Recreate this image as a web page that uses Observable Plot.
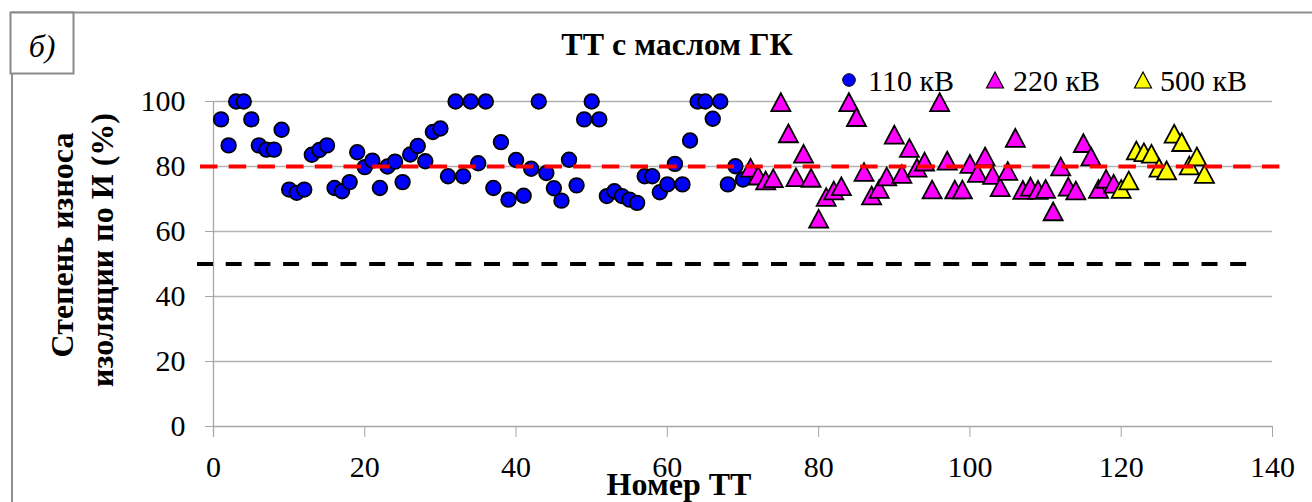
<!DOCTYPE html>
<html>
<head>
<meta charset="utf-8">
<script src="https://cdn.jsdelivr.net/npm/d3@7"></script>
<script src="https://cdn.jsdelivr.net/npm/@observablehq/plot@0.6"></script>
<style>
  html, body { margin: 0; padding: 0; background: #fff; }
  #chart { width: 1312px; height: 502px; overflow: hidden; }
  #chart svg text { font-family: 'Liberation Serif', 'Times New Roman', serif; }
</style>
</head>
<body>
<div id="chart"></div>
<script>
// ---- data ----
const title = "ТТ с маслом ГК";
const panelLabel = "б)";
const xLabel = "Номер ТТ";
const yLabelLines = ["Степень износа", "изоляции по И (%)"];
const seriesNames = ["110 кВ", "220 кВ", "500 кВ"];
const xTicks = [0, 20, 40, 60, 80, 100, 120, 140];
const yTicks = [0, 20, 40, 60, 80, 100];
const redLevel = 80;
const blackLevel = 50;

const x110 = [1,2,3,4,5,6,7,8,9,10,11,12,13,14,15,16,17,18,19,20,21,22,23,24,25,26,27,28,29,30,31,32,33,34,35,36,37,38,39,40,41,42,43,44,45,46,47,48,49,50,51,52,53,54,55,56,57,58,59,60,61,62,63,64,65,66,67,68,69,70];
const y110 = [94.5,86.5,100,100,94.5,86.5,85.2,85.2,91.3,72.9,71.9,72.9,83.6,85.1,86.5,73.4,72.4,75.2,84.4,79.8,81.8,73.4,80,81.5,75.2,83.7,86.3,81.6,90.6,91.7,77,100,77,100,81,100,73.4,87.5,69.8,82,71,79.3,100,78,73.3,69.5,82.1,74.2,94.5,100,94.5,70.9,72.4,70.9,69.8,68.8,77,77,72.1,74.5,80.8,74.5,88,100,100,94.7,100,74.5,80.1,76];

const x220 = [71,72,73,74,75,76,77,78,79,80,81,82,83,84,85,86,87,88,89,90,91,92,93,94,95,96,97,98,99,100,101,102,103,104,105,106,107,108,109,110,111,112,113,114,115,116,117,118,119];
const y220 = [79.6,77.2,75.7,76.4,99.8,90.2,76.7,83.9,76.5,63.9,70.6,72.6,73.9,99.8,95.2,78.3,71.1,73.1,76.9,89.8,77.7,85.7,79.6,81.5,72.9,99.8,81.8,72.9,72.9,80.8,78,83.1,77.4,73.6,78.6,88.8,72.8,73.8,72.8,73.1,66.2,80,73.8,72.6,87.2,83.1,73.1,76.2,74.7];

const x500 = [120,121,122,123,124,125,126,127,128,129,130,131];
const y500 = [73.1,75.7,84.9,84.4,83.9,79.6,78.8,90.1,87.5,80.3,83.1,77.7];

const colors = ["#0000ff", "#ff00ff", "#ffff00"];

// triangle centred on its bounding box (Excel-like marker)
const triSymbol = {
  draw(ctx, size) {
    const s = Math.sqrt(size);
    const h = 1.27 * s, w = 1.36 * s;
    ctx.moveTo(0, -h / 2);
    ctx.lineTo(w / 2, h / 2);
    ctx.lineTo(-w / 2, h / 2);
    ctx.closePath();
  }
};

const d110 = x110.map((x, i) => ({x, y: y110[i]}));
const d220 = x220.map((x, i) => ({x, y: y220[i]}));
const d500 = x500.map((x, i) => ({x, y: y500[i]}));

const W = 1312, H = 502;
const serif = "'Liberation Serif', 'Times New Roman', serif";

const plot = Plot.plot({
  width: W,
  height: H,
  marginLeft: 213,
  marginRight: 40,
  marginTop: 101,
  marginBottom: 76,
  style: { fontFamily: serif, fontSize: "29px", background: "#fff", color: "#000", overflow: "visible" },
  x: { domain: [0, 140] },
  y: { domain: [0, 100] },
  marks: [
    Plot.gridY(yTicks.filter(d => d > 0), { stroke: "#b3b3b3", strokeOpacity: 1, strokeWidth: 1.3 }),
    Plot.ruleY([0], { stroke: "#a6a6a6", strokeWidth: 1.3 }),
    Plot.ruleX([0], { stroke: "#a6a6a6", strokeWidth: 1.3, insetBottom: -11 }),
    Plot.axisY({ ticks: yTicks, tickSize: 8, tickPadding: 20, stroke: "#a6a6a6", fill: "#000", label: null, fontSize: 30, fontFamily: serif, tickFormat: d => String(d) }),
    Plot.axisX({ ticks: xTicks, tickSize: 11, tickPadding: 18, stroke: "#a6a6a6", fill: "#000", label: null, fontSize: 30, fontFamily: serif, tickFormat: d => String(d) }),
    Plot.ruleY([blackLevel], { stroke: "#000", strokeWidth: 4, strokeDasharray: "16,12.7", insetLeft: -16, insetRight: 20 }),
    Plot.dot(d110, { x: "x", y: "y", r: 7.3, fill: colors[0], stroke: "#000", strokeWidth: 1.8 }),
    Plot.dot(d220, { x: "x", y: "y", r: 7.9, symbol: triSymbol, fill: colors[1], stroke: "#000", strokeWidth: 1.8 }),
    Plot.dot(d500, { x: "x", y: "y", r: 7.9, symbol: triSymbol, fill: colors[2], stroke: "#000", strokeWidth: 1.8 }),
    Plot.ruleY([redLevel], { stroke: "#ff0000", strokeWidth: 4, strokeDasharray: "17.5,11.2", insetLeft: -13, insetRight: -11 })
  ]
});

document.getElementById("chart").appendChild(plot);

const svg = d3.select(plot);

// outer frame (top and left edges)
svg.append("line").attr("x1", 11).attr("x2", W).attr("y1", 12.5).attr("y2", 12.5)
  .attr("stroke", "#8f8f8f").attr("stroke-width", 2);
svg.append("line").attr("x1", 12).attr("x2", 12).attr("y1", 12).attr("y2", H)
  .attr("stroke", "#8f8f8f").attr("stroke-width", 2);

// panel label box
svg.append("rect").attr("x", 10.5).attr("y", 12.5).attr("width", 63).attr("height", 61)
  .attr("fill", "#fff").attr("stroke", "#8a8a8a").attr("stroke-width", 2);
svg.append("text").attr("x", 42).attr("y", 57).attr("text-anchor", "middle")
  .attr("font-family", serif).attr("font-style", "italic").attr("font-size", 32)
  .attr("fill", "#000").text(panelLabel);

// title
svg.append("text").attr("x", 677).attr("y", 55).attr("text-anchor", "middle")
  .attr("font-family", serif).attr("font-weight", "bold").attr("font-size", 32)
  .attr("fill", "#000").text(title);

// y label (two rotated lines)
const yl = [{x: 73, y: 245}, {x: 113, y: 250}];
yLabelLines.forEach((t, i) => {
  svg.append("text")
    .attr("transform", `translate(${yl[i].x},${yl[i].y}) rotate(-90)`)
    .attr("text-anchor", "middle")
    .attr("font-family", serif).attr("font-weight", "bold").attr("font-size", 32)
    .attr("fill", "#000").text(t);
});

// x label
svg.append("text").attr("x", 679).attr("y", 495).attr("text-anchor", "middle")
  .attr("font-family", serif).attr("font-weight", "bold").attr("font-size", 32)
  .attr("fill", "#000").text(xLabel);

// legend
const leg = svg.append("g").attr("font-family", serif).attr("font-size", 30)
  .attr("fill", "#000").attr("text-anchor", "start");
const legPos = [{sx: 849, tx: 868}, {sx: 995, tx: 1013}, {sx: 1143, tx: 1160}];
const legY = 80;
leg.append("circle").attr("cx", legPos[0].sx).attr("cy", legY).attr("r", 6.3)
  .attr("fill", colors[0]).attr("stroke", "#000").attr("stroke-width", 1);
[1, 2].forEach(k => {
  const cx = legPos[k].sx, h = 16, w = 17;
  leg.append("path")
    .attr("d", `M${cx},${legY - h / 2}L${cx + w / 2},${legY + h / 2}L${cx - w / 2},${legY + h / 2}Z`)
    .attr("fill", colors[k]).attr("stroke", "#000").attr("stroke-width", 1.2);
});
seriesNames.forEach((n, k) => {
  leg.append("text").attr("x", legPos[k].tx).attr("y", 91)
    .attr("text-anchor", "start").text(n);
});
</script>
</body>
</html>
